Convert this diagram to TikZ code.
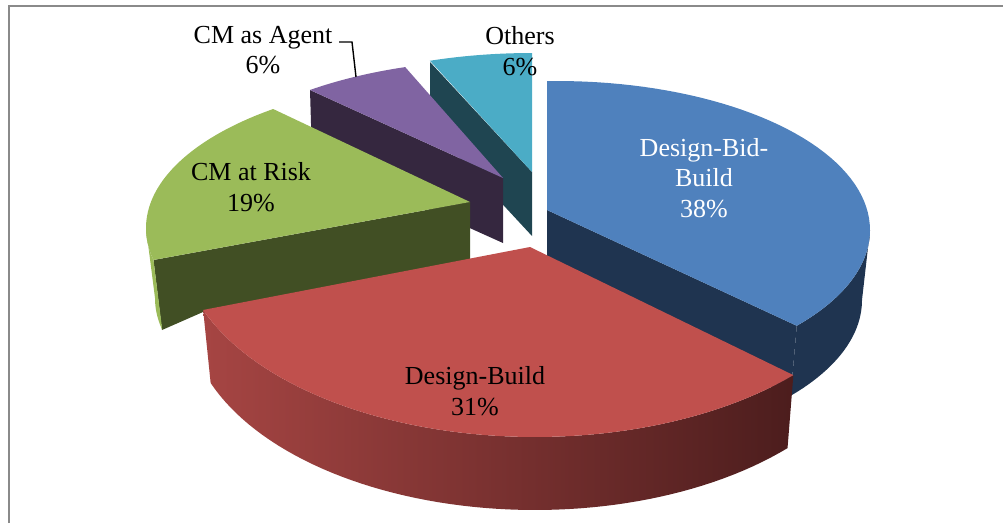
\documentclass[tikz,border=0pt]{standalone}
\usepackage{fontspec}
\setmainfont{Liberation Serif}
\definecolor{blueT}{HTML}{4F81BD}
\definecolor{blueD}{HTML}{1F3450}
\definecolor{redT}{HTML}{C0504D}
\definecolor{redL}{HTML}{A64543}
\definecolor{redR}{HTML}{4C1D1D}
\definecolor{greenT}{HTML}{9BBB59}
\definecolor{greenD}{HTML}{414F24}
\definecolor{purpleT}{HTML}{8064A2}
\definecolor{purpleD}{HTML}{35273F}
\definecolor{cyanT}{HTML}{4BACC6}
\definecolor{cyanD}{HTML}{1F4551}
\definecolor{frameC}{HTML}{8A8A8A}
\begin{document}
\begin{tikzpicture}[x=1pt,y=-1pt,samples=60,
  lbl/.style={font=\fontsize{26}{30.5}\selectfont, align=center, inner sep=0pt},
  frame/.style={draw=frameC, line width=1.8pt},
  leader/.style={draw=black, line width=1.4pt}]
\useasboundingbox (0,0) rectangle (1003,523);
\draw[frame] (9,523) -- (9,6.3) -- (1003,6.3);
% Others (cyan)
\fill[cyanD] (430,62) -- (532,172) -- (532,236) -- (430,126) -- cycle;
\fill[cyanT] (532,172) -- plot[domain=251.4:270] ({532+320*cos(\x)},{201+148*sin(\x)}) -- cycle;
% CM as Agent (purple)
\fill[purpleD] (310,90) -- (503,178) -- (503,243) -- (312,157) -- cycle;
\fill[purpleT] (503,178) -- plot[domain=232.9:252.2] ({503+320*cos(\x)},{208+148*sin(\x)}) -- cycle;
% CM at Risk (green)
\fill[greenD] (470,202) -- (153.5,260) -- (162,330) -- (203,312) -- (470,262) -- cycle;
\fill[greenT] plot[domain=180:167.7] ({471+325*cos(\x)},{228+150*sin(\x)}) -- plot[domain=167.7:180] ({471+316*cos(\x)},{298+150*sin(\x)}) -- cycle;
\fill[greenT] (470,202) -- plot[domain=232.5:167.7] ({471+325*cos(\x)},{228+150*sin(\x)}) -- cycle;
% Design-Bid-Build (blue)
\fill[blueD] (547,210) -- ({557+313*cos(40)},{230+149*sin(40)}) -- ({557+305*cos(40)},{300+149*sin(40)}) -- (547,280) -- cycle;
\fill[blueD] plot[domain=0:40] ({557+313*cos(\x)},{230+149*sin(\x)}) -- plot[domain=40:0] ({557+305*cos(\x)},{300+149*sin(\x)}) -- cycle;
\fill[blueT] (547,210) -- plot[domain=-91.8:40] ({557+313*cos(\x)},{230+149*sin(\x)}) -- cycle;
% Design-Build (red)
\shade[left color=redL, right color=redR] plot[domain=43.3:159.2] ({535+355*cos(\x)},{240+197*sin(\x)}) -- plot[domain=159.2:43.3] ({535+347*cos(\x)},{313+197*sin(\x)}) -- cycle;
\fill[redT] (530,247) -- plot[domain=43.3:159.2] ({535+355*cos(\x)},{240+197*sin(\x)}) -- cycle;
% labels
\node[lbl] (agent) at (263,50) {CM as Agent\\6\%};
\node[lbl] (others) at (520,51) {Others\\6\%};
\node[lbl] (risk) at (251,187) {CM at Risk\\19\%};
\node[lbl, text=white] (dbb) at (704,178) {Design-Bid-\\Build\\38\%};
\node[lbl] (db) at (475,391) {Design-Build\\31\%};
% leader line
\coordinate (ldstart) at (339,42);
\coordinate (ldbend) at (352,42);
\coordinate (agenttip) at (356,77);
\draw[leader] (ldstart) -- (ldbend) -- (agenttip);
\end{tikzpicture}
\end{document}
